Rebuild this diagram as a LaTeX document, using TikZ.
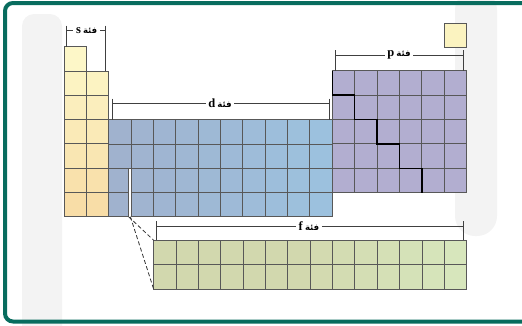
\documentclass[tikz,border=0pt]{standalone}
\usepackage{fontspec}
\setmainfont{Liberation Serif}
\newfontfamily\arabicfont[Script=Arabic]{DejaVu Sans}
\TeXXeTstate=1
\definecolor{frameteal}{RGB}{8,108,94}
\definecolor{gridc}{RGB}{88,88,88}
\definecolor{sTop}{RGB}{253,247,200}
\definecolor{sBot}{RGB}{247,218,163}
\definecolor{dL}{RGB}{160,178,206}
\definecolor{dR}{RGB}{156,195,224}
\definecolor{pC}{RGB}{178,174,208}
\definecolor{fL}{RGB}{210,216,174}
\definecolor{fR}{RGB}{215,230,188}
\definecolor{heC}{RGB}{251,243,192}
\definecolor{wm}{RGB}{243,243,243}
\tikzset{
  cellbox/.style={draw=gridc, line width=0.9pt},
  bracket/.style={draw=black!75, line width=0.7pt},
  lbl/.style={inner sep=2.5pt, font=\fontsize{12.5}{13}\selectfont\bfseries},
  stair/.style={draw=black, line width=1.4pt},
  linkdash/.style={draw=black!80, line width=0.8pt, dash pattern=on 4pt off 2.5pt},
}
\newcommand{\arlbl}[1]{\textbf{#1}\,{\arabicfont\fontsize{8.5}{9}\selectfont\bfseries\beginR فئة\endR}}
\begin{document}
\begin{tikzpicture}[x=1pt,y=-1pt]
\useasboundingbox (0,0) rectangle (522,325);
% faint watermark
\fill[wm, rounded corners=12] (22,14) rectangle (62,340);
\fill[wm, rounded corners=20] (455,-10) rectangle (497,236);
% frame
\begin{scope}
\clip (0,0) rectangle (522,325);
\draw[frameteal, line width=4pt, rounded corners=8pt] (5,3) rectangle (560,321.5);
\end{scope}
% s block
\foreach \r in {0,...,6}{
  \pgfmathsetmacro\m{100-\r*15}
  \draw[cellbox, fill=sTop!\m!sBot] (64,{46.7+\r*24.29}) rectangle ++(22.3,24.29);
}
\foreach \r in {1,...,6}{
  \pgfmathsetmacro\m{100-\r*15}
  \draw[cellbox, fill=sTop!\m!sBot] (86.3,{46.7+\r*24.29}) rectangle ++(22.4,24.29);
}
% d block
\foreach \c in {0,...,9}{
  \pgfmathsetmacro\m{100-\c*10}
  \foreach \r in {0,1}{
    \draw[cellbox, fill=dL!\m!dR] ({108.7+\c*22.36},{119.7+\r*24.29}) rectangle ++(22.36,24.29);
  }
  \ifnum\c>1
  \foreach \r in {2,3}{
    \draw[cellbox, fill=dL!\m!dR] ({108.7+\c*22.36},{119.7+\r*24.29}) rectangle ++(22.36,24.29);
  }
  \fi
}
\foreach \r in {2,3}{
  \draw[cellbox, fill=dL] (108.7,{119.7+\r*24.29}) rectangle (128.3,{119.7+(\r+1)*24.29});
  \draw[cellbox, fill=dL!90!dR] (131.7,{119.7+\r*24.29}) rectangle (153.4,{119.7+(\r+1)*24.29});
}
% p block
\foreach \c in {0,...,5}{
  \foreach \r in {0,...,4}{
    \draw[cellbox, fill=pC] ({332.3+\c*22.4},{70.7+\r*24.4}) rectangle ++(22.4,24.4);
  }
}
% staircase
\draw[stair] (332.3,70.7) |- (354.7,95.1) |- (377.1,119.5) |- (399.5,143.9) |- (421.9,168.3) -- (421.9,192.7);
% helium
\draw[cellbox, fill=heC] (444.3,23.3) rectangle (466.7,47.7);
% f block
\foreach \c in {0,...,13}{
  \pgfmathsetmacro\m{\c<7 ? 100 : 100-(\c-6)*14}
  \foreach \r in {0,1}{
    \draw[cellbox, fill=fL!\m!fR] ({153.7+\c*22.36},{240.3+\r*24.5}) rectangle ++(22.36,24.5);
  }
}
% dashed links
\coordinate (gapA) at (128.6,216.7);
\coordinate (gapB) at (130.4,216.7);
\coordinate (fTL) at (153.7,240.3);
\coordinate (fBL) at (153.7,289.3);
\draw[linkdash] (gapA) -- (fTL);
\draw[linkdash] (gapB) -- (fBL);
% s bracket
\node[lbl] (slbl) at (86.7,30.3) {\arlbl{s}};
\coordinate (sL) at (66.7,30.3); \coordinate (sR) at (105.7,30.3);
\draw[bracket] (sL) -- (slbl.west) (slbl.east) -- (sR);
\draw[bracket] (66.7,25.5) -- (66.7,46.7) (105.7,25.5) -- (105.7,70.7);
% d bracket
\node[lbl] (dlbl) at (220,103.7) {\arlbl{d}};
\coordinate (dLc) at (112,103.7); \coordinate (dRc) at (329.3,103.7);
\draw[bracket] (dLc) -- (dlbl.west) (dlbl.east) -- (dRc);
\draw[bracket] (112,98.5) -- (112,119.7) (329.3,98.5) -- (329.3,119.7);
% p bracket
\node[lbl] (plbl) at (399,55) {\arlbl{p}};
\coordinate (pLc) at (335,55); \coordinate (pRc) at (463.3,55);
\draw[bracket] (pLc) -- (plbl.west) (plbl.east) -- (pRc);
\draw[bracket] (335,50) -- (335,70.7) (463.3,50) -- (463.3,70.7);
% f bracket
\node[lbl] (flbl) at (309,226) {\arlbl{f}};
\coordinate (fLc) at (156.3,226); \coordinate (fRc) at (463.3,226);
\draw[bracket] (fLc) -- (flbl.west) (flbl.east) -- (fRc);
\draw[bracket] (156.3,221) -- (156.3,240.3) (463.3,221) -- (463.3,240.3);
\end{tikzpicture}
\end{document}
